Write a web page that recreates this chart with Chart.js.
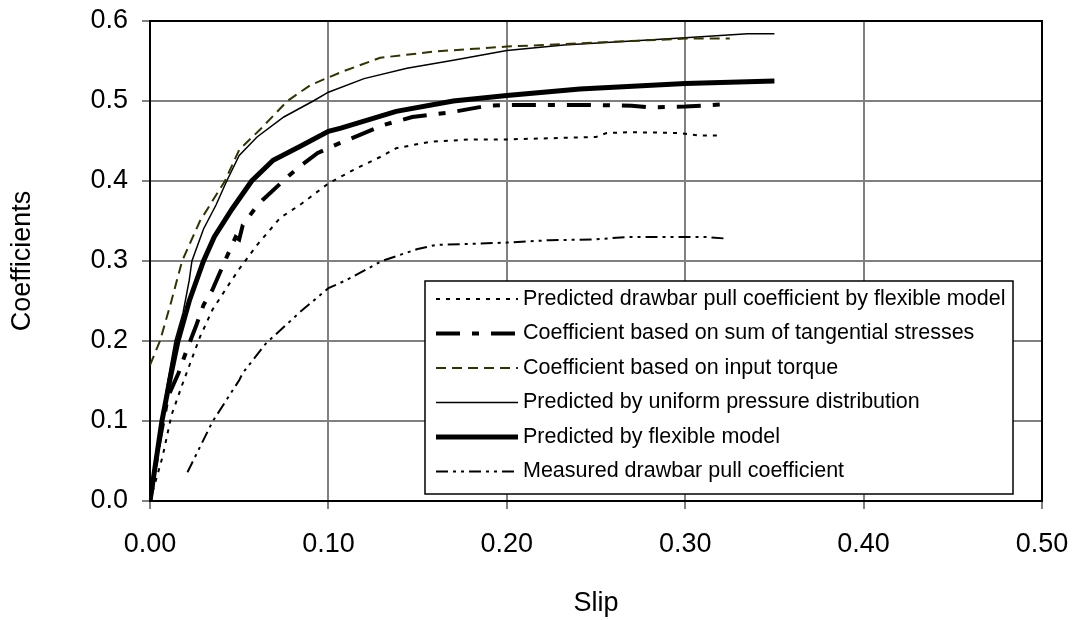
<!DOCTYPE html>
<html>
<head>
<meta charset="utf-8">
<script src="https://cdn.jsdelivr.net/npm/chart.js@4.4.1/dist/chart.umd.min.js"></script>
<style>
  body { margin: 0; background: #fff; }
  canvas { display: block; }
</style>
</head>
<body>
<canvas id="chart" width="1075" height="620"></canvas>
<script>
// values
const xTicks = [0, 0.1, 0.2, 0.3, 0.4, 0.5];
const yTicks = [0, 0.1, 0.2, 0.3, 0.4, 0.5, 0.6];

const labels = [
    "Predicted drawbar pull coefficient by flexible model",
    "Coefficient based on sum of tangential stresses",
    "Coefficient based on input torque",
    "Predicted by uniform pressure distribution",
    "Predicted by flexible model",
    "Measured drawbar pull coefficient"
];

const drawbarSlip = [0, 0.007, 0.012, 0.018, 0.028, 0.035, 0.044, 0.05, 0.06, 0.073, 0.084, 0.1, 0.115, 0.129, 0.138, 0.157, 0.18, 0.2, 0.25, 0.256, 0.27, 0.297, 0.307, 0.321];
const drawbarCoef = [0, 0.055, 0.107, 0.145, 0.205, 0.239, 0.27, 0.29, 0.32, 0.354, 0.37, 0.397, 0.415, 0.43, 0.441, 0.449, 0.452, 0.452, 0.455, 0.46, 0.461, 0.46, 0.457, 0.457];

const tangSlip = [0, 0.005, 0.01, 0.016, 0.02, 0.026, 0.03, 0.035, 0.042, 0.048, 0.05, 0.052, 0.059, 0.063, 0.078, 0.085, 0.094, 0.106, 0.131, 0.147, 0.169, 0.189, 0.2, 0.25, 0.27, 0.28, 0.3, 0.323];
const tangCoef = [0, 0.07, 0.13, 0.16, 0.185, 0.22, 0.245, 0.264, 0.3, 0.33, 0.327, 0.345, 0.366, 0.376, 0.407, 0.42, 0.435, 0.447, 0.47, 0.48, 0.486, 0.494, 0.495, 0.495, 0.494, 0.492, 0.493, 0.496];

const torqueSlip = [0, 0.0056, 0.012, 0.018, 0.028, 0.042, 0.05, 0.062, 0.077, 0.09, 0.107, 0.129, 0.16, 0.2, 0.25, 0.3, 0.325];
const torqueCoef = [0.17, 0.2, 0.25, 0.3, 0.35, 0.4, 0.439, 0.465, 0.5, 0.52, 0.536, 0.554, 0.562, 0.568, 0.573, 0.578, 0.578];

const uniformSlip = [0, 0.005, 0.01, 0.014, 0.0185, 0.022, 0.0235, 0.03, 0.037, 0.043, 0.05, 0.06, 0.075, 0.0915, 0.1, 0.12, 0.144, 0.17, 0.2, 0.232, 0.27, 0.3, 0.335, 0.35];
const uniformCoef = [0, 0.08, 0.15, 0.2, 0.235, 0.276, 0.3, 0.34, 0.37, 0.4, 0.432, 0.455, 0.48, 0.5, 0.511, 0.528, 0.541, 0.551, 0.563, 0.57, 0.575, 0.579, 0.584, 0.584];

const flexSlip = [0, 0.0067, 0.011, 0.0157, 0.022, 0.03, 0.036, 0.046, 0.057, 0.069, 0.084, 0.1, 0.107, 0.138, 0.17, 0.2, 0.241, 0.3, 0.35];
const flexCoef = [0, 0.1, 0.15, 0.2, 0.25, 0.3, 0.33, 0.365, 0.4, 0.426, 0.443, 0.462, 0.466, 0.487, 0.5, 0.507, 0.515, 0.522, 0.525];

const measuredSlip = [0.021, 0.035, 0.05, 0.052, 0.065, 0.084, 0.1, 0.11, 0.13, 0.15, 0.16, 0.2, 0.224, 0.25, 0.267, 0.3, 0.312, 0.323];
const measuredCoef = [0.036, 0.099, 0.151, 0.16, 0.197, 0.236, 0.266, 0.276, 0.3, 0.315, 0.32, 0.323, 0.326, 0.327, 0.33, 0.33, 0.33, 0.328];

const FONT = "'Liberation Sans', Arial, sans-serif";

function points(xs, ys) {
    return xs.map((x, i) => ({ x: x, y: ys[i] }));
}

function series(label, xs, ys, color, width, dash) {
    return {
        label: label,
        data: points(xs, ys),
        borderColor: color,
        borderWidth: width,
        borderDash: dash,
        pointRadius: 0,
        tension: 0,
        fill: false
    };
}

// black frame round the plot area
const framePlugin = {
    id: "frame",
    beforeDatasetsDraw(chart) {
        const a = chart.chartArea;
        const ctx = chart.ctx;
        ctx.save();
        ctx.strokeStyle = "#000";
        ctx.lineWidth = 2;
        ctx.strokeRect(a.left, a.top, a.right - a.left, a.bottom - a.top);
        ctx.restore();
    }
};

// legend box sitting inside the plot, like the original
const boxLegend = {
    id: "boxLegend",
    afterDatasetsDraw(chart) {
        const ctx = chart.ctx;
        const box = { left: 425, top: 281, right: 1013, bottom: 494 };
        const rowTop = 299, rowStep = 34.5;
        ctx.save();
        ctx.fillStyle = "#fff";
        ctx.fillRect(box.left, box.top, box.right - box.left, box.bottom - box.top);
        ctx.strokeStyle = "#000";
        ctx.lineWidth = 1.5;
        ctx.strokeRect(box.left, box.top, box.right - box.left, box.bottom - box.top);
        chart.data.datasets.forEach((ds, i) => {
            const y = rowTop + i * rowStep;
            ctx.beginPath();
            ctx.strokeStyle = ds.borderColor;
            ctx.lineWidth = ds.borderWidth;
            ctx.setLineDash(ds.borderDash || []);
            ctx.moveTo(436, y);
            ctx.lineTo(518, y);
            ctx.stroke();
            ctx.setLineDash([]);
            ctx.fillStyle = "#000";
            ctx.font = "21.5px " + FONT;
            ctx.textBaseline = "middle";
            ctx.textAlign = "left";
            ctx.fillText(ds.label, 523, y);
        });
        ctx.restore();
    }
};

function main() {
    const tickFont = { family: FONT, size: 27 };
    new Chart(document.getElementById("chart"), {
        type: "line",
        data: {
            datasets: [
                series(labels[0], drawbarSlip, drawbarCoef, "#000", 2, [4, 6]),
                series(labels[1], tangSlip, tangCoef, "#000", 4, [24, 12, 7, 12]),
                series(labels[2], torqueSlip, torqueCoef, "#333300", 2, [10, 6]),
                series(labels[3], uniformSlip, uniformCoef, "#000", 1.5, []),
                series(labels[4], flexSlip, flexCoef, "#000", 5, []),
                series(labels[5], measuredSlip, measuredCoef, "#000", 2, [12, 5, 3, 5, 3, 5])
            ]
        },
        options: {
            responsive: false,
            animation: false,
            layout: { padding: { top: 21, right: 33, left: 0, bottom: 0 } },
            plugins: {
                legend: { display: false },
                tooltip: { enabled: false }
            },
            scales: {
                x: {
                    type: "linear",
                    min: xTicks[0],
                    max: xTicks[xTicks.length - 1],
                    afterBuildTicks: s => { s.ticks = xTicks.map(v => ({ value: v })); },
                    ticks: { callback: v => v.toFixed(2), padding: 19, color: "#000", font: tickFont, maxRotation: 0 },
                    grid: { color: "#808080", lineWidth: 2, tickLength: 8 },
                    border: { display: false },
                    title: { display: true, text: "Slip", color: "#000", font: tickFont, padding: 0 },
                    afterFit: s => {
                        s.height = 119;
                        s.paddingLeft = 0;
                        s.paddingRight = 0;
                    }
                },
                y: {
                    type: "linear",
                    min: yTicks[0],
                    max: yTicks[yTicks.length - 1],
                    afterBuildTicks: s => { s.ticks = yTicks.map(v => ({ value: v })); },
                    ticks: { callback: v => v.toFixed(1), padding: 14, color: "#000", font: tickFont },
                    grid: { color: "#808080", lineWidth: 2, tickLength: 8 },
                    border: { display: false },
                    title: { display: true, text: "Coefficients", color: "#000", font: tickFont, padding: { top: 6, bottom: 0 } },
                    afterFit: s => {
                        s.width = 150;
                        s.paddingTop = 0;
                        s.paddingBottom = 0;
                    }
                }
            }
        },
        plugins: [framePlugin, boxLegend]
    });
}

window.onload = main;
</script>
</body>
</html>
